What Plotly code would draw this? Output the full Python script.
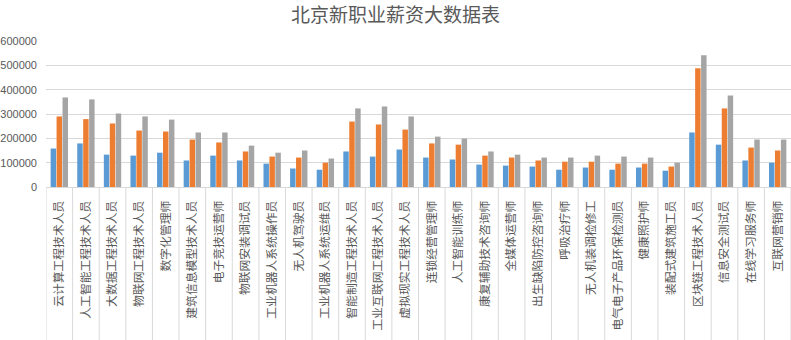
import plotly.graph_objects as go

categories = ["云计算工程技术人员", "人工智能工程技术人员", "大数据工程技术人员", "物联网工程技术人员",
              "数字化管理师", "建筑信息模型技术人员", "电子竞技运营师", "物联网安装调试员",
              "工业机器人系统操作员", "无人机驾驶员", "工业机器人系统运维员", "智能制造工程技术人员",
              "工业互联网工程技术人员", "虚拟现实工程技术人员", "连锁经营管理师", "人工智能训练师",
              "康复辅助技术咨询师", "全媒体运营师", "出生缺陷防控咨询师", "呼吸治疗师",
              "无人机装调检修工", "电气电子产品环保检测员", "健康照护师", "装配式建筑施工员",
              "区块链工程技术人员", "信息安全测试员", "在线学习服务师", "互联网营销师"]

series1 = [158000, 179000, 133000, 129000, 141000, 109000, 129000, 109000, 96000, 76000,
           71000, 146000, 125000, 154000, 121000, 113000, 92000, 88000, 84000, 71000,
           80000, 71000, 80000, 67000, 224000, 174000, 109000, 100000]
series2 = [290000, 279000, 261000, 232000, 228000, 195000, 183000, 146000, 125000, 121000,
           100000, 269000, 257000, 236000, 179000, 174000, 129000, 121000, 109000, 104000,
           104000, 96000, 96000, 84000, 488000, 323000, 162000, 150000]
series3 = [368000, 360000, 302000, 290000, 277000, 224000, 224000, 170000, 141000, 150000,
           117000, 323000, 331000, 290000, 207000, 199000, 146000, 133000, 121000, 121000,
           129000, 125000, 121000, 100000, 541000, 376000, 195000, 195000]

y_ticks = [0, 100000, 200000, 300000, 400000, 500000, 600000]

colors = ["#5B9BD5", "#ED7D31", "#A5A5A5"]
font_family = "Noto Sans CJK SC, Noto Sans, sans-serif"

fig = go.Figure()
for name, vals, c in zip(["系列1", "系列2", "系列3"], [series1, series2, series3], colors):
    fig.add_trace(go.Bar(x=categories, y=vals, name=name, marker=dict(color=c, line=dict(width=0))))

# category divider lines extending below the axis
shapes = []
for i in range(len(categories) + 1):
    shapes.append(dict(type="line", xref="x", yref="paper", x0=i - 0.5, x1=i - 0.5,
                       y0=0, y1=-1.2, line=dict(color="#d9d9d9", width=1)))

fig.update_layout(
    width=791, height=340,
    margin=dict(l=46, r=0, t=41, b=153),
    paper_bgcolor="white", plot_bgcolor="white",
    barmode="group", bargap=0.33, bargroupgap=0.08,
    showlegend=False,
    title=dict(text="北京新职业薪资大数据表", x=0.5, xanchor="center", y=0.955, yanchor="middle",
               font=dict(family=font_family, size=19, color="#595959")),
    font=dict(family=font_family, color="#595959"),
    shapes=shapes,
)
fig.update_xaxes(
    type="category", tickangle=-90, range=[-0.5, len(categories) - 0.5],
    tickfont=dict(family=font_family, size=11.8, color="#595959"),
    showline=True, linecolor="#d9d9d9", linewidth=1,
    showgrid=False, ticks="", ticklabelstandoff=8, automargin=False,
)
fig.update_yaxes(
    range=[0, 600000], tickvals=y_ticks, ticktext=[str(v) for v in y_ticks],
    tickfont=dict(family="Liberation Sans, Arial, sans-serif", size=11, color="#595959"),
    showgrid=True, gridcolor="#d9d9d9", gridwidth=1,
    zeroline=False, showline=False, ticks="", ticklabelstandoff=8, automargin=False,
)

fig.write_html("out.html")
